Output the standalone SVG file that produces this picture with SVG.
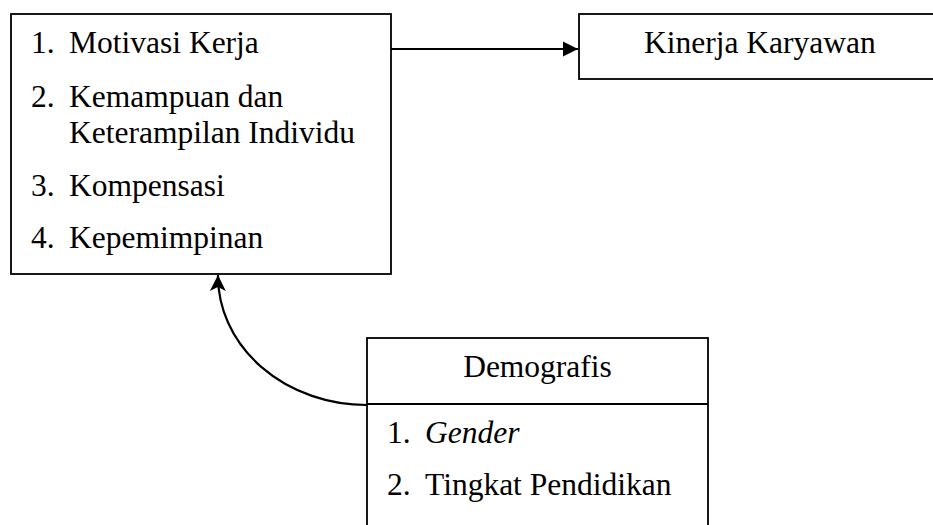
<svg xmlns="http://www.w3.org/2000/svg" width="933" height="525" viewBox="0 0 933 525">
<style>
.box{fill:#fff;stroke:#000;stroke-width:1.8}
.t{font-family:"Liberation Serif","Times New Roman",serif;font-size:31.5px;fill:#000}
.it{font-style:italic}
.c{fill:none;stroke:#000;stroke-width:2.2}
</style>
<defs>
<marker id="tri" markerWidth="16" markerHeight="16" refX="15" refY="8" orient="auto" markerUnits="userSpaceOnUse">
<path d="M0,0.5 L15,8 L0,15.5 Z" fill="#000"/>
</marker>
<marker id="stealth" markerWidth="18" markerHeight="18" refX="16" refY="9" orient="auto" markerUnits="userSpaceOnUse">
<path d="M0,1 L16,9 L0,17 L4,9 Z" fill="#000"/>
</marker>
</defs>
<rect width="933" height="525" fill="#fff"/>
<g id="faktor">
<rect class="box" x="11" y="14" width="380" height="260"/>
<text class="t" x="31" y="53">1.</text><text class="t" x="69" y="53">Motivasi Kerja</text>
<text class="t" x="31" y="107">2.</text><text class="t" x="69" y="107">Kemampuan dan</text>
<text class="t" x="69" y="143">Keterampilan Individu</text>
<text class="t" x="31" y="196">3.</text><text class="t" x="69" y="196">Kompensasi</text>
<text class="t" x="31" y="248">4.</text><text class="t" x="69" y="248">Kepemimpinan</text>
</g>
<g id="kinerja">
<rect class="box" x="579" y="14" width="370" height="65"/>
<text class="t" x="644" y="53">Kinerja Karyawan</text>
</g>
<g id="demografis">
<rect class="box" x="367" y="338" width="341" height="200"/>
<line x1="367" y1="404" x2="708" y2="404" stroke="#000" stroke-width="1.8"/>
<text class="t" x="537.5" y="377" text-anchor="middle">Demografis</text>
<text class="t" x="387" y="443">1.</text><text class="t it" x="425" y="443">Gender</text>
<text class="t" x="387" y="495">2.</text><text class="t" x="425" y="495">Tingkat Pendidikan</text>
</g>
<g id="connectors">
<line class="c" x1="391" y1="49" x2="578" y2="49" marker-end="url(#tri)"/>
<path class="c" d="M367,405 A149,129 0 0 1 218,275" marker-end="url(#stealth)"/>
</g>
</svg>
